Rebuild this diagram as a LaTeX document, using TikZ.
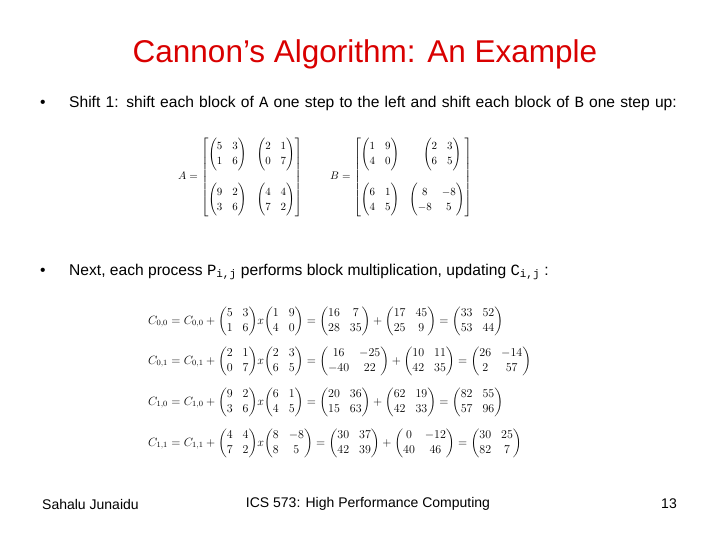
\documentclass[tikz,border=0pt]{standalone}
\usepackage{amsmath}
\usepackage{fontspec}
\setmainfont{Liberation Sans}
\newfontfamily\monof{Liberation Mono}
\begin{document}
\begin{tikzpicture}[x=1pt,y=-1pt,
  body/.style={anchor=west,font=\fontsize{15.6}{19}\selectfont,inner sep=0},
  foot/.style={font=\fontsize{14}{16}\selectfont,inner sep=0},
  eq/.style={anchor=west,inner sep=0,font=\fontsize{10.5}{13}\selectfont},
  eqc/.style={anchor=west,inner sep=0,font=\fontsize{11.8}{15}\selectfont}]
\useasboundingbox (0,0) rectangle (720,540);
\node[inner sep=0,text=red!85!black,font=\fontsize{31.5}{36}\selectfont] (title) at (365,54) {Cannon's Algorithm: An Example};
\node[body] (b1) at (40,104) {•};
\node[body,text width=620pt,align=left,anchor=north west] (t1) at (69,96) {Shift 1: shift each block of {\monof A} one step to the left and shift each block of {\monof B} one step up:};
\node[eq] (A) at (178,177) {$\renewcommand{\arraystretch}{1.2}A=\left[\begin{matrix}\begin{pmatrix}5&3\\1&6\end{pmatrix}&\begin{pmatrix}2&1\\0&7\end{pmatrix}\\[22pt]\begin{pmatrix}9&2\\3&6\end{pmatrix}&\begin{pmatrix}4&4\\7&2\end{pmatrix}\end{matrix}\right]$};
\node[eq] (B) at (330,177) {$\renewcommand{\arraystretch}{1.2}B=\left[\begin{matrix}\begin{pmatrix}1&9\\4&0\end{pmatrix}&\quad\begin{pmatrix}2&3\\6&5\end{pmatrix}\\[22pt]\begin{pmatrix}6&1\\4&5\end{pmatrix}&\begin{pmatrix}8&-8\\-8&5\end{pmatrix}\end{matrix}\right]$};
\node[body] (b2) at (40,272) {•};
\node[body] (t2) at (69,272) {Next, each process {\monof P\textsubscript{i,j}} performs block multiplication, updating {\monof C\textsubscript{i,j}} :};
\node[eqc] (c00) at (148,321) {$C_{0,0}=C_{0,0}+\begin{pmatrix}5&3\\1&6\end{pmatrix}\!x\!\begin{pmatrix}1&9\\4&0\end{pmatrix}=\begin{pmatrix}16&7\\28&35\end{pmatrix}+\begin{pmatrix}17&45\\25&9\end{pmatrix}=\begin{pmatrix}33&52\\53&44\end{pmatrix}$};
\node[eqc] (c01) at (148,361) {$C_{0,1}=C_{0,1}+\begin{pmatrix}2&1\\0&7\end{pmatrix}\!x\!\begin{pmatrix}2&3\\6&5\end{pmatrix}=\begin{pmatrix}16&-25\\-40&22\end{pmatrix}+\begin{pmatrix}10&11\\42&35\end{pmatrix}=\begin{pmatrix}26&-14\\2&57\end{pmatrix}$};
\node[eqc] (c10) at (148,402) {$C_{1,0}=C_{1,0}+\begin{pmatrix}9&2\\3&6\end{pmatrix}\!x\!\begin{pmatrix}6&1\\4&5\end{pmatrix}=\begin{pmatrix}20&36\\15&63\end{pmatrix}+\begin{pmatrix}62&19\\42&33\end{pmatrix}=\begin{pmatrix}82&55\\57&96\end{pmatrix}$};
\node[eqc] (c11) at (148,443) {$C_{1,1}=C_{1,1}+\begin{pmatrix}4&4\\7&2\end{pmatrix}\!x\!\begin{pmatrix}8&-8\\8&5\end{pmatrix}=\begin{pmatrix}30&37\\42&39\end{pmatrix}+\begin{pmatrix}0&-12\\40&46\end{pmatrix}=\begin{pmatrix}30&25\\82&7\end{pmatrix}$};
\node[foot,anchor=west] (f1) at (42,504) {Sahalu Junaidu};
\node[foot] (f2) at (368,504) {ICS 573: High Performance Computing};
\node[foot,anchor=east] (f3) at (677,504) {13};
\end{tikzpicture}
\end{document}
